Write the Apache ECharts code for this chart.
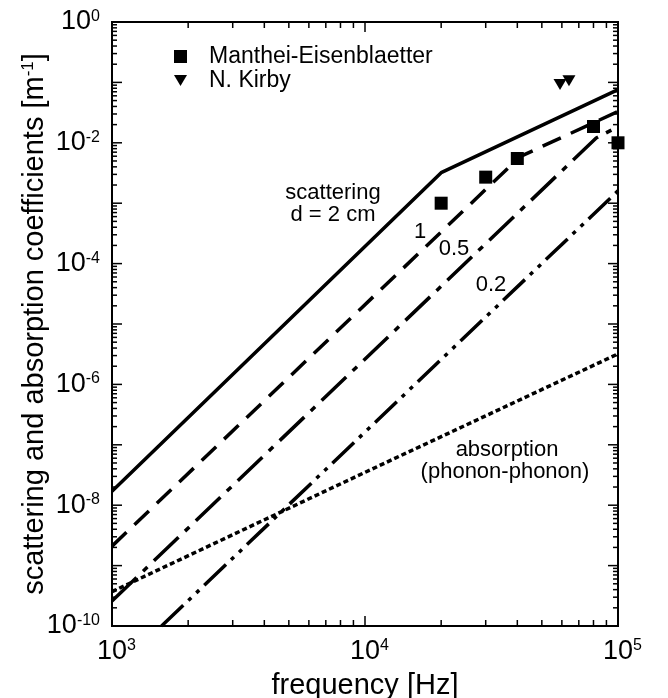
<!DOCTYPE html>
<html>
<head>
<meta charset="utf-8">
<title>scattering and absorption coefficients</title>
<script src="https://cdn.jsdelivr.net/npm/echarts@6/dist/echarts.min.js"></script>
<style>
html, body { margin: 0; padding: 0; background: #fff; }
#main { width: 668px; height: 698px; }
</style>
</head>
<body>
<div id="main"></div>
<script>
// scattering curves for grain size d, [frequency Hz, coefficient 1/m]
var scatter2cm = [[1e3, 1.7e-8], [2e4, 3.2e-3], [1e5, 0.076]];
var scatter1cm = [[1e3, 2.1e-9], [4.1e4, 5.9e-3], [1e5, 0.033]];
var scatter05cm = [[1e3, 2.6e-10], [8.2e4, 0.012], [1e5, 0.0185]];
var scatter02cm = [[1.57e3, 1e-10], [1e5, 1.6e-3]];
// phonon-phonon absorption
var absorption = [[1e3, 3.7e-10], [1e4, 3.5e-8], [1e5, 3.2e-6]];
// measurements
var manthei = [[2e4, 1.0e-3], [3e4, 2.7e-3], [4e4, 5.5e-3], [8e4, 0.0186], [1e5, 0.010]];
var kirby = [[5.9e4, 0.092], [6.4e4, 0.107]];

// axes
var xDecades = [3, 4, 5];
var yDecades = [-10, -9, -8, -7, -6, -5, -4, -3, -2, -1, 0];
var minorSteps = [2, 3, 4, 5, 6, 7, 8, 9];

var FONT = 'Liberation Sans, Arial, Helvetica, sans-serif';
var TRIANGLE_DOWN = 'path://M0,0L12,0L6,10Z';

// tick marks: [value, 1 = x axis / 2 = y axis, major]
var tickData = [];
function addTicks(decades, kind) {
	for (var i = 0; i < decades.length; i++) {
		var base = Math.pow(10, decades[i]);
		tickData.push([base, kind, 1]);
		if (i < decades.length - 1) {
			for (var j = 0; j < minorSteps.length; j++) {
				tickData.push([minorSteps[j] * base, kind, 0]);
			}
		}
	}
}
addTicks(xDecades, 1);
addTicks(yDecades, 2);

var xMin = Math.pow(10, xDecades[0]), xMax = Math.pow(10, xDecades[xDecades.length - 1]);
var yMin = Math.pow(10, yDecades[0]), yMax = Math.pow(10, yDecades[yDecades.length - 1]);

function renderTick(params, api) {
	var v = api.value(0), kind = api.value(1), major = api.value(2);
	var len = major ? 10 : 5;
	var segs = [];
	if (kind === 1) {
		var b = api.coord([v, yMin]), t = api.coord([v, yMax]);
		len = major ? 10 : 6;
		segs.push([b[0], b[1], b[0], b[1] - len]);
		segs.push([t[0], t[1], t[0], t[1] + len]);
	} else {
		var l = api.coord([xMin, v]), r = api.coord([xMax, v]);
		segs.push([l[0], l[1], l[0] + len, l[1]]);
		segs.push([r[0], r[1], r[0] - len, r[1]]);
	}
	return {
		type: 'group',
		children: segs.map(function (s) {
			return {
				type: 'line',
				shape: { x1: s[0], y1: s[1], x2: s[2], y2: s[3] },
				style: { stroke: '#000', lineWidth: 1.5 }
			};
		})
	};
}

var labelRich = {
	p: { width: 9 },
	b: { fontSize: 27, fontFamily: FONT, color: '#000' },
	s: { fontSize: 16, fontFamily: FONT, color: '#000', verticalAlign: 'top' }
};

function lineSeries(name, data, dash) {
	return {
		name: name,
		type: 'line',
		data: data,
		symbol: 'none',
		silent: true,
		lineStyle: { color: '#000', width: 3.5, type: dash, cap: 'butt' }
	};
}

var chart = echarts.init(document.getElementById('main'));
var option = {
	animation: false,
	backgroundColor: '#fff',
	grid: {
		left: 112, top: 22, right: 50, bottom: 72,
		outerBoundsMode: 'none',
		containLabel: false,
		show: true, borderColor: '#000', borderWidth: 2, backgroundColor: 'transparent'
	},
	legend: {
		orient: 'vertical',
		left: 169,
		top: 40,
		itemWidth: 13,
		itemHeight: 13,
		itemGap: 1,
		data: [
			{ name: 'Manthei-Eisenblaetter', icon: 'rect' },
			{ name: 'N. Kirby', icon: TRIANGLE_DOWN }
		],
		textStyle: { fontSize: 23, fontFamily: FONT, color: '#000', padding: [0, 0, 0, 17] }
	},
	xAxis: [{
		type: 'log',
		logBase: 10,
		min: xMin,
		max: xMax,
		axisLine: { show: false },
		axisTick: { show: false },
		splitLine: { show: false },
		axisLabel: {
			margin: 12,
			showMinLabel: true,
			showMaxLabel: true,
			formatter: function (v) {
				return '{p|}{b|10}{s|' + Math.round(Math.log10(v)) + '}';
			},
			rich: labelRich
		},
		name: 'frequency [Hz]',
		nameLocation: 'middle',
		nameGap: 45,
		nameTextStyle: { fontSize: 29, fontFamily: FONT, color: '#000' }
	}],
	yAxis: [{
		type: 'log',
		logBase: 10,
		min: yMin,
		max: yMax,
		axisLine: { show: false },
		axisTick: { show: false },
		axisLabel: { show: false },
		splitLine: { show: false },
		name: '{t|scattering and absorption coefficients [m}{s|-1}{t|]}',
		nameLocation: 'middle',
		nameGap: 63,
		nameTextStyle: {
			rich: {
				t: { fontSize: 29, fontFamily: FONT, color: '#000' },
				s: { fontSize: 17, fontFamily: FONT, color: '#000', verticalAlign: 'top' }
			}
		}
	}, {
		// exponent labels for the log axis
		type: 'value',
		position: 'left',
		min: yDecades[0],
		max: yDecades[yDecades.length - 1],
		interval: 2,
		axisLine: { show: false },
		axisTick: { show: false },
		splitLine: { show: false },
		axisLabel: {
			margin: 12,
			showMinLabel: true,
			showMaxLabel: true,
			formatter: function (v) {
				return '{b|10}{s|' + v + '}';
			},
			rich: labelRich
		}
	}],
	series: [
		{
			type: 'custom',
			silent: true,
			renderItem: renderTick,
			data: tickData,
			z: 1
		},
		lineSeries('d = 2 cm', scatter2cm, 'solid'),
		lineSeries('d = 1 cm', scatter1cm, [20, 11]),
		lineSeries('d = 0.5 cm', scatter05cm, [34, 9, 6, 9]),
		lineSeries('d = 0.2 cm', scatter02cm, [30, 7, 4, 7, 4, 7]),
		lineSeries('absorption', absorption, [5, 3]),
		{
			name: 'Manthei-Eisenblaetter',
			type: 'scatter',
			data: manthei,
			symbol: 'rect',
			symbolSize: 13,
			itemStyle: { color: '#000', opacity: 1 },
			z: 5
		},
		{
			name: 'N. Kirby',
			type: 'scatter',
			data: kirby,
			symbol: TRIANGLE_DOWN,
			symbolSize: [13, 11],
			itemStyle: { color: '#000', opacity: 1 },
			z: 5
		}
	],
	graphic: [
		{ type: 'text', style: { text: 'scattering', x: 333, y: 193, font: '22px ' + FONT, fill: '#000', align: 'center', verticalAlign: 'middle' } },
		{ type: 'text', style: { text: 'd = 2 cm', x: 333, y: 215, font: '22px ' + FONT, fill: '#000', align: 'center', verticalAlign: 'middle' } },
		{ type: 'text', style: { text: '1', x: 420, y: 232, font: '22px ' + FONT, fill: '#000', align: 'center', verticalAlign: 'middle' } },
		{ type: 'text', style: { text: '0.5', x: 454, y: 249, font: '22px ' + FONT, fill: '#000', align: 'center', verticalAlign: 'middle' } },
		{ type: 'text', style: { text: '0.2', x: 491, y: 285, font: '22px ' + FONT, fill: '#000', align: 'center', verticalAlign: 'middle' } },
		{ type: 'text', style: { text: 'absorption', x: 507, y: 450, font: '22px ' + FONT, fill: '#000', align: 'center', verticalAlign: 'middle' } },
		{ type: 'text', style: { text: '(phonon-phonon)', x: 505, y: 472, font: '22px ' + FONT, fill: '#000', align: 'center', verticalAlign: 'middle' } }
	]
};
chart.setOption(option);
</script>
</body>
</html>
